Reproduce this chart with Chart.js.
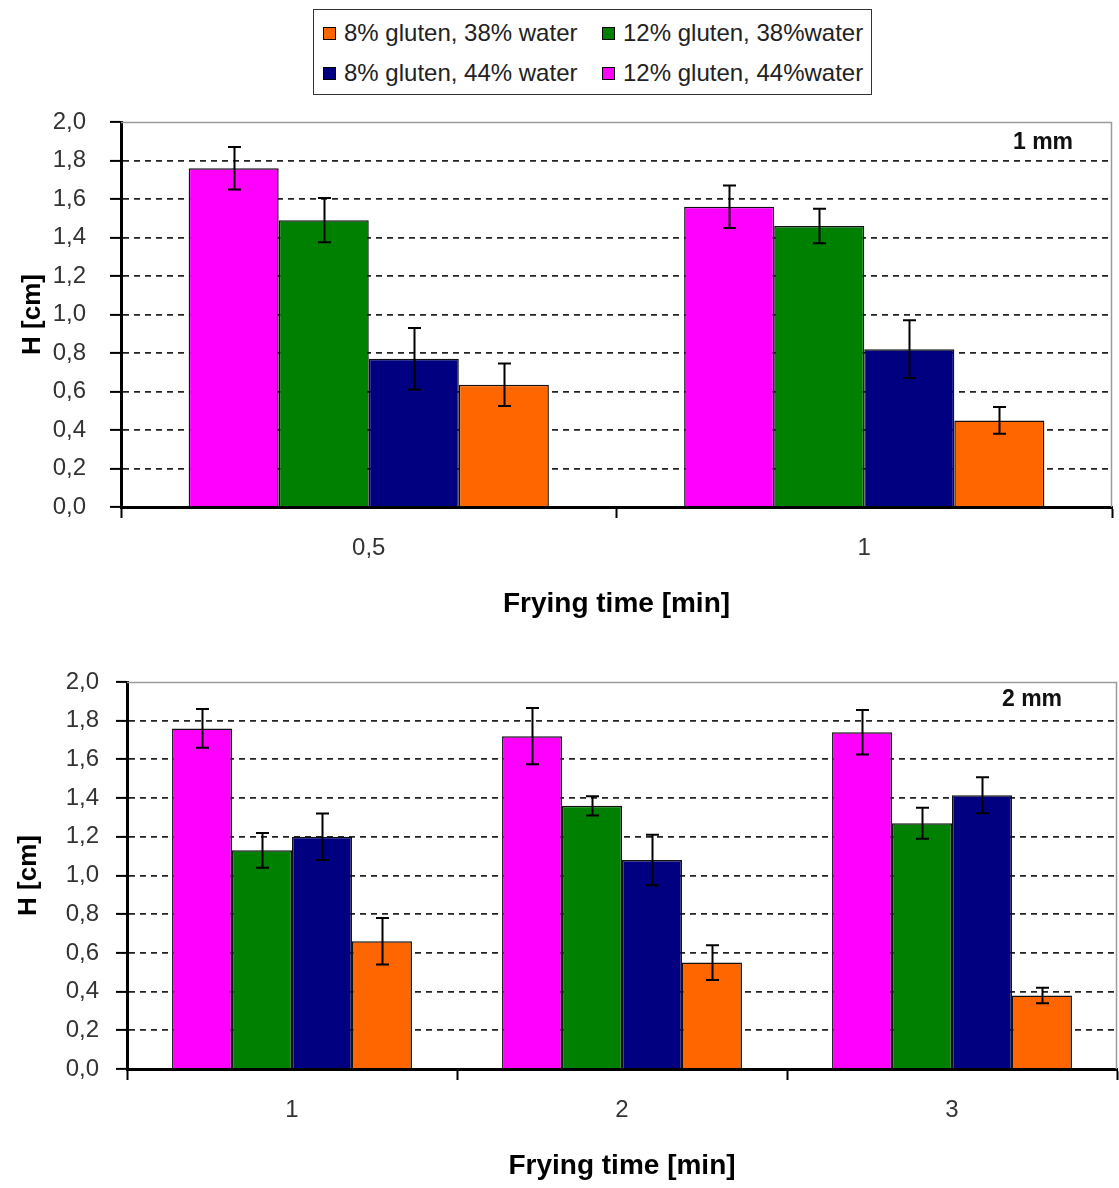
<!DOCTYPE html>
<html>
<head>
<meta charset="utf-8">
<script src="https://cdn.jsdelivr.net/npm/chart.js@4"></script>
<style>
  html, body { margin: 0; padding: 0; background: #fff; }
  body { width: 1119px; height: 1188px; position: relative; overflow: hidden; font-family: "Liberation Sans", Arial, sans-serif; }
  .wrap { position: absolute; left: 0; }
  #legend { position: absolute; left: 313px; top: 9px; width: 559px; height: 86px; box-sizing: border-box; border: 1.5px solid #333; background: #fff; }
  .item { position: absolute; display: flex; align-items: center; height: 30px; font-size: 24px; color: #222; white-space: nowrap; }
  .swatch { width: 11px; height: 11px; border: 1px solid #000; margin-right: 8px; }
</style>
</head>
<body>
<div id="legend"></div>
<div class="wrap" style="top:0;width:1119px;height:640px;"><canvas id="c1" width="1119" height="640"></canvas></div>
<div class="wrap" style="top:640px;width:1119px;height:548px;"><canvas id="c2" width="1119" height="548"></canvas></div>
<script>
// ---- data ----
const seriesNames = ["12% gluten, 44%water", "12% gluten, 38%water", "8% gluten, 44% water", "8% gluten, 38% water"];
const seriesColors = ["#FF00FF", "#008000", "#000080", "#FF6600"];
const legendOrder = [3, 1, 2, 0];

const topCategories = ["0,5", "1"];
const topValues = [
  [1.76, 1.56],
  [1.49, 1.46],
  [0.77, 0.82],
  [0.635, 0.45]
];
const topErrors = [
  [0.11, 0.11],
  [0.115, 0.09],
  [0.16, 0.15],
  [0.11, 0.07]
];

const bottomCategories = ["1", "2", "3"];
const bottomValues = [
  [1.76, 1.72, 1.74],
  [1.13, 1.36, 1.27],
  [1.20, 1.08, 1.415],
  [0.66, 0.55, 0.38]
];
const bottomErrors = [
  [0.10, 0.145, 0.115],
  [0.09, 0.05, 0.08],
  [0.12, 0.13, 0.093],
  [0.12, 0.09, 0.04]
];

const yTicksMin = 0, yTicksMax = 2.0, yTickStep = 0.2;
const xTitle = "Frying time [min]";
const yTitle = "H [cm]";
const topTag = "1 mm";
const bottomTag = "2 mm";

// ---- legend (HTML) ----
const legendEl = document.getElementById('legend');
const legendPos = [[9, 8], [288, 8], [9, 48], [288, 48]];
legendOrder.forEach((si, k) => {
  const it = document.createElement('div');
  it.className = 'item';
  it.style.left = legendPos[k][0] + 'px';
  it.style.top = legendPos[k][1] + 'px';
  const sw = document.createElement('span');
  sw.className = 'swatch';
  sw.style.background = seriesColors[si];
  const tx = document.createElement('span');
  tx.textContent = seriesNames[si];
  it.appendChild(sw); it.appendChild(tx);
  legendEl.appendChild(it);
});

// ---- plugins ----
const errorBars = {
  id: 'errbars',
  afterDatasetsDraw(chart, args, opts) {
    const ctx = chart.ctx;
    const y = chart.scales.y;
    ctx.save();
    ctx.strokeStyle = '#000';
    ctx.lineWidth = 2;
    chart.data.datasets.forEach((ds, i) => {
      const meta = chart.getDatasetMeta(i);
      meta.data.forEach((bar, j) => {
        const v = ds.data[j], e = opts.errors[i][j];
        const yt = y.getPixelForValue(v + e), yb = y.getPixelForValue(v - e);
        const x = Math.round(bar.x) + 0.5, w = 6.5;
        ctx.beginPath();
        ctx.moveTo(x, yt); ctx.lineTo(x, yb);
        ctx.moveTo(x - w, yt); ctx.lineTo(x + w, yt);
        ctx.moveTo(x - w, yb); ctx.lineTo(x + w, yb);
        ctx.stroke();
      });
    });
    ctx.restore();
  }
};

const frameAndTag = {
  id: 'frametag',
  beforeDatasetsDraw(chart, args, opts) {
    const {ctx, chartArea: a} = chart;
    ctx.save();
    ctx.strokeStyle = '#9a9a9a';
    ctx.lineWidth = 1.5;
    ctx.beginPath();
    ctx.moveTo(a.left, a.top + 0.5);
    ctx.lineTo(a.right - 0.5, a.top + 0.5);
    ctx.lineTo(a.right - 0.5, a.bottom);
    ctx.stroke();
    ctx.restore();
  },
  afterDraw(chart, args, opts) {
    const {ctx, chartArea: a} = chart;
    ctx.save();
    ctx.fillStyle = '#111';
    ctx.font = 'bold 23px "Liberation Sans", Arial, sans-serif';
    ctx.textAlign = 'center';
    ctx.textBaseline = 'middle';
    ctx.fillText(opts.text, a.right - opts.dx, a.top + opts.dy);
    ctx.restore();
  }
};

const tickFont = { family: '"Liberation Sans Narrow", "Arial Narrow", "Liberation Sans", Arial, sans-serif', size: 24 };

function makeChart(id, cats, values, errors, cfg) {
  return new Chart(document.getElementById(id), {
    type: 'bar',
    data: {
      labels: cats,
      datasets: values.map((vals, i) => ({
        label: seriesNames[i],
        data: vals,
        backgroundColor: seriesColors[i],
        borderColor: '#111',
        borderWidth: 1.5,
        barPercentage: 1.0,
        categoryPercentage: 0.727
      }))
    },
    options: {
      responsive: false,
      animation: false,
      devicePixelRatio: 1,
      layout: { padding: { top: cfg.padTop, right: cfg.padRight, bottom: 0, left: 0 } },
      plugins: {
        legend: { display: false },
        tooltip: { enabled: false },
        errbars: { errors: errors },
        frametag: { text: cfg.tag, dx: cfg.tagDx, dy: cfg.tagDy }
      },
      scales: {
        x: {
          grid: { display: true, drawOnChartArea: false, offset: true, tickLength: 11, tickColor: '#000', tickWidth: 2 },
          border: { display: true, color: '#000', width: 3 },
          ticks: { color: '#333', font: tickFont, padding: 16 },
          title: { display: true, text: xTitle, color: '#000', font: { family: '"Liberation Sans", Arial, sans-serif', size: 28, weight: 'bold' }, padding: { top: 4, bottom: cfg.xTitlePad } },
          afterFit(s) { s.height = cfg.xH; }
        },
        y: {
          min: yTicksMin, max: yTicksMax,
          grid: {
            color: (c) => (c.tick && Math.abs(c.tick.value - yTicksMax) < 1e-9) ? 'rgba(0,0,0,0)' : '#222',
            lineWidth: 1.8, tickLength: 11, tickColor: '#000', tickWidth: 2, tickBorderDash: []
          },
          border: { display: true, color: '#000', width: 3, dash: [6, 5] },
          ticks: {
            stepSize: yTickStep, color: '#333', font: tickFont, padding: cfg.yTickPad,
            callback: (v) => Number(v).toFixed(1).replace('.', ',')
          },
          title: { display: true, text: yTitle, color: '#000', font: { family: '"Liberation Sans", Arial, sans-serif', size: 26, weight: 'bold' }, padding: { top: cfg.yTitlePad, bottom: 4 } },
          afterFit(s) { s.width = cfg.yW; }
        }
      }
    },
    plugins: [frameAndTag, errorBars]
  });
}

makeChart('c1', topCategories, topValues, topErrors, {
  padTop: 122, padRight: 7, xH: 133, yW: 121, xTitlePad: 19, yTitlePad: 17, yTickPad: 24,
  tag: topTag, tagDx: 69, tagDy: 21
});
makeChart('c2', bottomCategories, bottomValues, bottomErrors, {
  padTop: 42, padRight: 2, xH: 119, yW: 127, xTitlePad: 5, yTitlePad: 13, yTickPad: 17,
  tag: bottomTag, tagDx: 85, tagDy: 18
});
</script>
</body>
</html>
